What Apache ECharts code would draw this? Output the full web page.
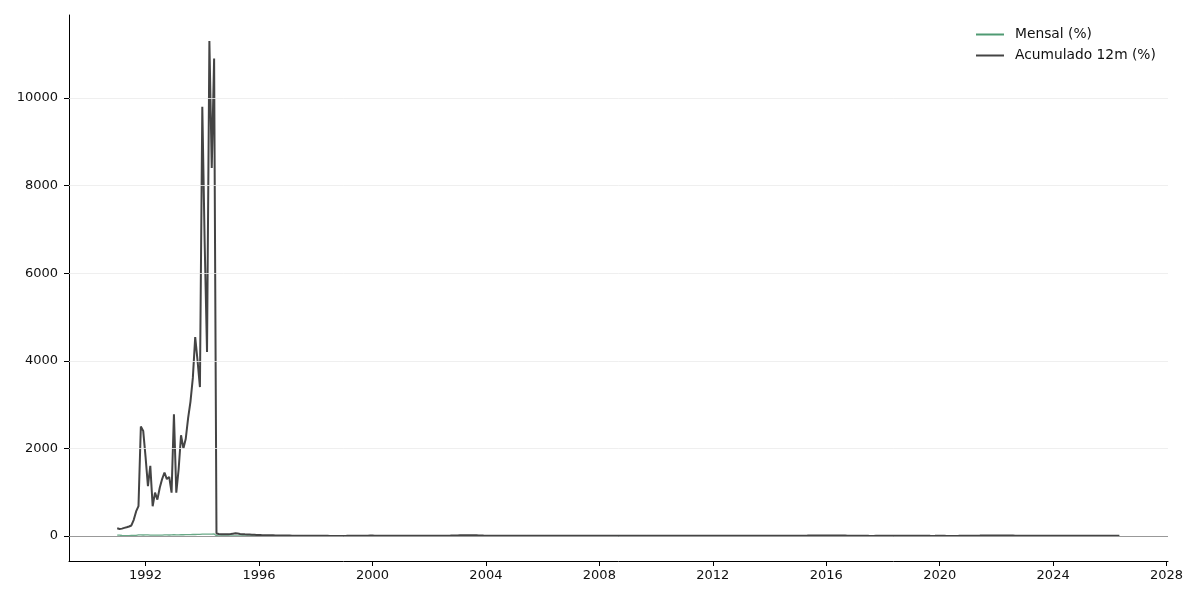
<!DOCTYPE html>
<html>
<head>
<meta charset="utf-8">
<script src="https://cdn.jsdelivr.net/npm/echarts@6/dist/echarts.min.js"></script>
<style>
  html, body { margin: 0; padding: 0; background: #fff; }
  #chart { width: 1200px; height: 600px; }
</style>
</head>
<body>
<div id="chart"></div>
<script>
// first year of the monthly data
var startYear = 1991

// Acumulado 12m (%) - one row per year, Jan..Dec
var acumulado = [
  [177, 160, 168, 185, 200, 216, 240, 370, 560, 680, 2500, 2400],
  [1800, 1140, 1600, 680, 990, 830, 1100, 1300, 1450, 1300, 1350, 990],
  [2780, 990, 1530, 2300, 2000, 2220, 2690, 3070, 3610, 4540, 4000, 3400],
  [9800, 6700, 4200, 11300, 8400, 10900, 55, 45, 42, 40, 40, 42],
  [44, 52, 60, 55, 48, 42, 38, 35, 33, 30, 28, 24],
  [22, 20, 19, 18, 17, 16, 15, 14, 12, 11, 10, 9.5],
  [9, 8.5, 8, 7.5, 7, 6.5, 6, 5.5, 5, 5, 4.5, 5],
  [5, 4.5, 4, 3.5, 3, 3, 2.5, 2, 1.5, 1.5, 1.8, 1.7],
  [2, 3, 4.5, 5, 5, 5, 6, 6.5, 7, 7.5, 8, 9],
  [8.5, 8, 7.5, 7, 6.5, 6.5, 7, 7.5, 7.5, 6.5, 6, 6],
  [6, 6, 6, 6.5, 7, 7.5, 7, 6.5, 6.5, 7, 7.5, 7.7],
  [7.5, 7.5, 7.8, 8, 7.8, 7.7, 7.5, 7.5, 7.9, 8.5, 10.9, 12.5],
  [14, 15.8, 16.5, 16.8, 17.2, 16.6, 15.4, 15, 15.1, 13.9, 11.1, 9.3],
  [7.7, 6.7, 5.9, 5.3, 5.2, 6.1, 6.8, 7.2, 6.7, 6.9, 7.2, 7.6],
  [7.4, 7.4, 7.5, 8.1, 8.1, 7.3, 6.6, 6, 6, 6.4, 6.2, 5.7],
  [5.7, 5.5, 5.3, 4.6, 4.2, 4, 4, 3.8, 3.7, 3.3, 3, 3.1],
  [3, 3, 3, 3, 3.2, 3.7, 3.7, 4.2, 4.2, 4.1, 4.2, 4.5],
  [4.6, 4.6, 4.7, 5, 5.6, 6.1, 6.4, 6.2, 6.3, 6.4, 6.4, 5.9],
  [5.8, 5.9, 5.6, 5.5, 5.2, 4.8, 4.5, 4.4, 4.3, 4.2, 4.2, 4.3],
  [4.6, 4.8, 5.2, 5.3, 5.2, 4.8, 4.6, 4.5, 4.7, 5.2, 5.6, 5.9],
  [6, 6, 6.3, 6.5, 6.6, 6.7, 6.9, 7.2, 7.3, 7, 6.6, 6.5],
  [6.2, 5.9, 5.2, 5.1, 5, 4.9, 5.2, 5.2, 5.3, 5.5, 5.5, 5.8],
  [6.2, 6.3, 6.6, 6.5, 6.5, 6.7, 6.3, 6.1, 5.9, 5.8, 5.8, 5.9],
  [5.6, 5.7, 6.2, 6.3, 6.4, 6.5, 6.5, 6.5, 6.8, 6.6, 6.6, 6.4],
  [7.1, 7.7, 8.1, 8.2, 8.5, 8.9, 9.6, 9.5, 9.5, 9.9, 10.5, 10.7],
  [10.7, 10.4, 9.4, 9.3, 9.3, 8.8, 8.7, 9, 8.5, 7.9, 7, 6.3],
  [5.4, 4.8, 4.6, 4.1, 3.6, 3, 2.7, 2.5, 2.5, 2.7, 2.8, 2.9],
  [2.9, 2.8, 2.7, 2.8, 2.9, 4.4, 4.5, 4.2, 4.5, 4.6, 4, 3.7],
  [3.8, 3.9, 4.6, 4.9, 4.7, 3.4, 3.2, 3.4, 2.9, 2.5, 3.3, 4.3],
  [4.2, 4, 3.3, 2.4, 1.9, 2.1, 2.3, 2.4, 3.1, 3.9, 4.3, 4.5],
  [4.6, 5.2, 6.1, 6.8, 8.1, 8.4, 9, 9.7, 10.3, 10.7, 10.7, 10.1],
  [10.4, 10.5, 11.3, 12.1, 11.7, 11.9, 10.1, 8.7, 7.2, 6.5, 5.9, 5.8],
  [5.8, 5.6, 4.7, 4.2, 3.9, 3.2, 4, 4.6, 5.2, 4.8, 4.7, 4.6],
  [4.5, 4.5, 3.9, 3.7, 3.9, 4.2, 4.5, 4.2, 4.4, 4.8, 4.9, 4.8],
  [4.6, 5.1, 5.5, 5.5, 5.3, 5.4, 5.2, 5.1, 5.2, 4.7, 4.5, 4.3],
  [4.4, 4.2, 4, 4.1, 4]
]

// Mensal (%) - one row per year, Jan..Dec
var mensal = [
  [20, 21, 11, 9, 7, 9, 12, 15, 16, 26, 25, 23],
  [26, 24, 21, 19, 22, 21, 22, 22, 24, 25, 23, 24],
  [28, 26, 27, 28, 28, 30, 31, 33, 35, 34, 35, 37],
  [41, 42, 43, 42, 44, 47, 7, 2, 1.5, 2.5, 3, 1.7],
  [1.7, 1.0, 1.6, 2.4, 2.7, 2.3, 2.4, 1.4, 1.0, 1.3, 1.5, 1.6],
  [1.3, 0.2, 0.3, 0.9, 1.3, 1.3, 1.1, 0.4, 0.1, 0.2, 0.3, 0.5],
  [1.2, 0.5, 0.5, 0.7, 0.1, 0.4, 0.1, 0.0, 0.6, 0.2, 0.2, 0.4],
  [0.7, 0.5, 0.3, 0.2, 0.5, 0.0, -0.1, -0.5, 0.0, 0.0, -0.1, 0.3],
  [0.7, 1.1, 1.1, 0.6, 0.3, 0.2, 1.0, 0.6, 0.5, 1.2, 1.0, 0.6],
  [0.6, 0.1, 0.2, 0.4, 0.0, 0.2, 1.6, 1.3, 0.2, 0.1, 0.3, 0.6],
  [0.6, 0.5, 0.4, 0.6, 0.4, 0.5, 1.3, 0.7, 0.3, 0.8, 0.7, 0.7],
  [0.5, 0.4, 0.6, 0.8, 0.2, 0.4, 1.2, 0.7, 0.7, 1.3, 3.0, 2.1],
  [2.3, 1.6, 1.2, 1.0, 0.6, -0.2, 0.2, 0.3, 0.8, 0.3, 0.3, 0.5],
  [0.8, 0.6, 0.5, 0.4, 0.5, 0.7, 0.9, 0.7, 0.3, 0.4, 0.7, 0.9],
  [0.6, 0.6, 0.6, 0.9, 0.5, 0.0, 0.3, 0.2, 0.4, 0.8, 0.6, 0.4],
  [0.6, 0.4, 0.4, 0.2, 0.1, -0.2, 0.2, 0.1, 0.2, 0.3, 0.3, 0.5],
  [0.4, 0.4, 0.4, 0.3, 0.3, 0.3, 0.2, 0.5, 0.2, 0.3, 0.4, 0.7],
  [0.5, 0.5, 0.5, 0.6, 0.8, 0.7, 0.5, 0.3, 0.3, 0.5, 0.4, 0.3],
  [0.5, 0.6, 0.2, 0.5, 0.5, 0.4, 0.2, 0.2, 0.2, 0.3, 0.4, 0.4],
  [0.8, 0.8, 0.5, 0.6, 0.4, 0.0, 0.0, 0.0, 0.5, 0.8, 0.8, 0.6],
  [0.8, 0.8, 0.8, 0.8, 0.5, 0.2, 0.2, 0.4, 0.5, 0.4, 0.5, 0.5],
  [0.6, 0.5, 0.2, 0.6, 0.4, 0.1, 0.4, 0.4, 0.6, 0.6, 0.6, 0.8],
  [0.9, 0.6, 0.5, 0.6, 0.4, 0.3, 0.0, 0.2, 0.4, 0.6, 0.5, 0.9],
  [0.6, 0.7, 0.9, 0.7, 0.5, 0.4, 0.0, 0.3, 0.6, 0.4, 0.5, 0.8],
  [1.2, 1.2, 1.3, 0.7, 0.7, 0.8, 0.6, 0.2, 0.5, 0.8, 1.0, 1.0],
  [1.3, 0.9, 0.4, 0.6, 0.8, 0.4, 0.5, 0.4, 0.1, 0.3, 0.2, 0.3],
  [0.4, 0.3, 0.3, 0.1, 0.3, -0.2, 0.2, 0.2, 0.2, 0.4, 0.3, 0.4],
  [0.3, 0.3, 0.1, 0.2, 0.4, 1.3, 0.3, -0.1, 0.5, 0.5, -0.2, 0.2],
  [0.3, 0.4, 0.8, 0.6, 0.1, 0.0, 0.2, 0.1, 0.0, 0.1, 0.5, 1.2],
  [0.2, 0.3, 0.1, -0.3, -0.4, 0.3, 0.4, 0.2, 0.6, 0.9, 0.9, 1.4],
  [0.3, 0.9, 0.9, 0.3, 0.8, 0.5, 1.0, 0.9, 1.2, 1.3, 1.0, 0.7],
  [0.5, 1.0, 1.6, 1.1, 0.5, 0.7, -0.7, -0.4, -0.3, 0.6, 0.4, 0.6],
  [0.5, 0.8, 0.7, 0.6, 0.2, -0.1, 0.1, 0.2, 0.3, 0.2, 0.3, 0.6],
  [0.4, 0.8, 0.2, 0.4, 0.5, 0.2, 0.4, 0.0, 0.4, 0.6, 0.4, 0.5],
  [0.2, 1.3, 0.6, 0.4, 0.3, 0.2, 0.3, -0.1, 0.5, 0.1, 0.2, 0.3],
  [0.3, 0.5, 0.4, 0.4, 0.3]
]

var xTicks = [1992, 1996, 2000, 2004, 2008, 2012, 2016, 2020, 2024, 2028]
var yTicks = [0, 2000, 4000, 6000, 8000, 10000]

// turn year rows into [decimal year, value] pairs
function toPoints(rows) {
  var out = []
  rows.forEach(function (row, i) {
    row.forEach(function (v, m) {
      out.push([startYear + i + m / 12, v])
    })
  })
  return out
}

var font = 'DejaVu Sans'
var chart = echarts.init(document.getElementById('chart'), null, { renderer: 'canvas' })

var option = {
  animation: false,
  backgroundColor: '#fff',
  grid: { left: 69, right: 32, top: 15, bottom: 39, containLabel: false },
  legend: {
    data: ['Mensal (%)', 'Acumulado 12m (%)'],
    orient: 'vertical',
    left: 976,
    top: 26,
    padding: 0,
    itemWidth: 28,
    itemHeight: 2,
    itemGap: 4,
    icon: 'rect',
    textStyle: { fontFamily: font, fontSize: 13.8, color: '#111', lineHeight: 17, padding: [0, 0, 0, 6] }
  },
  xAxis: {
    type: 'value',
    min: 1989.3,
    max: 2028.05,
    axisLine: { onZero: false, lineStyle: { color: '#000', width: 1 } },
    axisTick: { show: true, length: 5, customValues: xTicks, lineStyle: { color: '#000' } },
    axisLabel: {
      customValues: xTicks, margin: 8, fontFamily: font, fontSize: 13, color: '#111',
      formatter: function (v) { return String(v) }
    },
    splitLine: { show: false }
  },
  yAxis: {
    type: 'value',
    min: -571,
    max: 11895,
    axisLine: { show: true, lineStyle: { color: '#000', width: 1 } },
    axisTick: { show: true, length: 5, customValues: yTicks, lineStyle: { color: '#000' } },
    axisLabel: {
      customValues: yTicks, margin: 11, fontFamily: font, fontSize: 13, color: '#111',
      formatter: function (v) { return String(v) }
    },
    splitLine: { show: false }
  },
  series: [
    {
      // grid lines and zero line
      name: '_ref',
      type: 'line',
      data: [[1991, 0]],
      symbol: 'none',
      lineStyle: { opacity: 0 },
      silent: true,
      z: 1,
      markLine: {
        silent: true,
        symbol: 'none',
        label: { show: false },
        data: yTicks.slice(1).map(function (v) {
          return { yAxis: v, lineStyle: { color: '#ebebeb', width: 0.8, type: 'solid' } }
        }).concat([{ yAxis: 0, lineStyle: { color: '#999', width: 1, type: 'solid' } }])
      }
    },
    {
      name: 'Mensal (%)',
      type: 'line',
      data: toPoints(mensal),
      symbol: 'none',
      color: '#4f9a72',
      lineStyle: { width: 1.3, color: '#4f9a72', opacity: 0.85 },
      z: 3
    },
    {
      name: 'Acumulado 12m (%)',
      type: 'line',
      data: toPoints(acumulado),
      symbol: 'none',
      color: '#444',
      lineStyle: { width: 2, color: '#444' },
      z: 4
    }
  ]
}

chart.setOption(option)
</script>
</body>
</html>
